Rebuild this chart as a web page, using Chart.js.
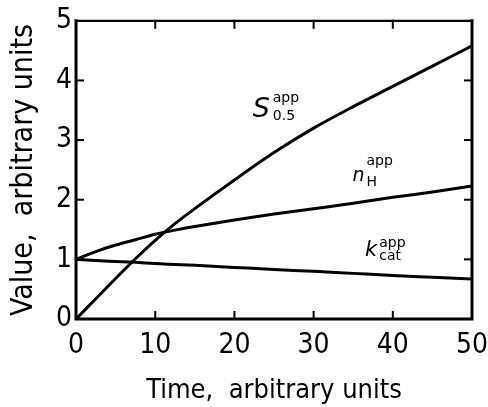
<!DOCTYPE html>
<html>
<head>
<meta charset="utf-8">
<script src="https://cdn.jsdelivr.net/npm/chart.js@4.4.1/dist/chart.umd.min.js"></script>
<style>
  html, body { margin: 0; padding: 0; background: #fff; }
  #wrap { width: 488px; height: 407px; position: relative; }
</style>
</head>
<body>
<div id="wrap"><canvas id="c"></canvas></div>
<script>
/* apparent kinetic parameters vs time */
const TIME = [0, 2.5, 5, 7.5, 10, 12.5, 15, 20, 25, 30, 35, 40, 45, 50];
const S05 = [0, 0.34, 0.68, 1.01, 1.32, 1.6, 1.85, 2.33, 2.79, 3.2, 3.56, 3.9, 4.24, 4.58];
const NH = [1.0, 1.13, 1.24, 1.33, 1.42, 1.49, 1.55, 1.66, 1.76, 1.85, 1.94, 2.04, 2.13, 2.23];
const KCAT = [1.0, 0.98, 0.965, 0.95, 0.93, 0.915, 0.9, 0.865, 0.83, 0.8, 0.765, 0.73, 0.7, 0.67];
const X_TICKS = [0, 10, 20, 30, 40, 50];
const Y_TICKS = [0, 1, 2, 3, 4, 5];

// curve labels: [main, sup, sub, x, y] (anchor at baseline of main letter)
const CURVE_LABELS = [
  ["S", "app", "0.5", 22.3, 3.39],
  ["n", "app", "H", 34.9, 2.31],
  ["k", "app", "cat", 36.5, 1.05],
];

const FONT = "'DejaVu Sans Condensed','DejaVu Sans',sans-serif";
const pts = (ys) => TIME.map((t, i) => ({ x: t, y: ys[i] }));
const line = (ys) => ({
  data: pts(ys), borderColor: "#000", borderWidth: 3, pointRadius: 0,
  fill: false, cubicInterpolationMode: "monotone",
});

/* box frame with inward tick marks on all four sides + curve labels */
const framePlugin = {
  id: "frame",
  afterDatasetsDraw(chart) {
    const { ctx, chartArea: a, scales: { x, y } } = chart;
    ctx.save();
    ctx.strokeStyle = "#000";
    ctx.lineCap = "square";
    ctx.lineWidth = 3;
    ctx.beginPath();
    ctx.moveTo(a.left, a.top); ctx.lineTo(a.left, a.bottom); ctx.lineTo(a.right, a.bottom); ctx.lineTo(a.right, a.top);
    ctx.stroke();
    ctx.lineWidth = 2.2;
    ctx.beginPath(); ctx.moveTo(a.left, a.top); ctx.lineTo(a.right, a.top); ctx.stroke();
    ctx.lineWidth = 2;
    const tl = 7;
    X_TICKS.slice(1, -1).forEach((v) => {
      const px = x.getPixelForValue(v);
      ctx.beginPath(); ctx.moveTo(px, a.bottom); ctx.lineTo(px, a.bottom - tl); ctx.stroke();
      ctx.beginPath(); ctx.moveTo(px, a.top); ctx.lineTo(px, a.top + tl); ctx.stroke();
    });
    Y_TICKS.slice(1, -1).forEach((v) => {
      const py = y.getPixelForValue(v);
      ctx.beginPath(); ctx.moveTo(a.left, py); ctx.lineTo(a.left + tl, py); ctx.stroke();
      ctx.beginPath(); ctx.moveTo(a.right, py); ctx.lineTo(a.right - tl, py); ctx.stroke();
    });

    ctx.fillStyle = "#000";
    ctx.textBaseline = "alphabetic";
    ctx.textAlign = "left";
    CURVE_LABELS.forEach(([m, sup, sub, vx, vy]) => {
      const px = x.getPixelForValue(vx), py = y.getPixelForValue(vy);
      const big = m === "S" ? 27 : m === "k" ? 21 : 19;
      ctx.font = "italic " + big + "px 'DejaVu Sans',sans-serif";
      const w = ctx.measureText(m).width;
      ctx.font = "14px 'DejaVu Sans',sans-serif";
      const gap = m === "S" ? 3 : 2;
      const supDy = m === "S" ? -15 : m === "n" ? -16 : -9;
      const subDy = m === "S" ? 3 : m === "n" ? 5 : 4;
      ctx.fillText(sup, px + w + gap, py + supDy);
      ctx.fillText(sub, px + w + gap, py + subDy);
      ctx.font = "italic " + big + "px 'DejaVu Sans',sans-serif";
      ctx.fillText(m, px, py);
    });
    ctx.restore();
  },
};

new Chart(document.getElementById("c"), {
  type: "line",
  data: { datasets: [line(S05), line(NH), line(KCAT)] },
  options: {
    responsive: true, maintainAspectRatio: false, animation: false,
    devicePixelRatio: 1,
    layout: { padding: { left: 6, right: 4, top: 20, bottom: 0 } },
    plugins: { legend: { display: false }, tooltip: { enabled: false } },
    scales: {
      x: {
        type: "linear", min: 0, max: 50,
        afterBuildTicks: (s) => { s.ticks = X_TICKS.map((v) => ({ value: v })); },
        afterFit: (s) => { s.paddingRight = 16; s.paddingLeft = 0; },
        grid: { display: false, drawTicks: false },
        border: { display: false },
        ticks: { color: "#000", font: { family: FONT, size: 28 }, padding: 10, maxRotation: 0 },
        title: { display: true, text: "Time,  arbitrary units", color: "#000",
          font: { family: FONT, size: 27 }, padding: { top: 2, bottom: 0 } },
      },
      y: {
        min: 0, max: 5,
        afterBuildTicks: (s) => { s.ticks = Y_TICKS.map((v) => ({ value: v })); },
        grid: { display: false, drawTicks: false },
        border: { display: false },
        ticks: { color: "#000", font: { family: FONT, size: 28 }, padding: 4 },
        title: { display: true, text: "Value,  arbitrary units", color: "#000",
          font: { family: FONT, size: 30 }, padding: { top: 0, bottom: 10 } },
      },
    },
  },
  plugins: [framePlugin],
});
</script>
</body>
</html>
